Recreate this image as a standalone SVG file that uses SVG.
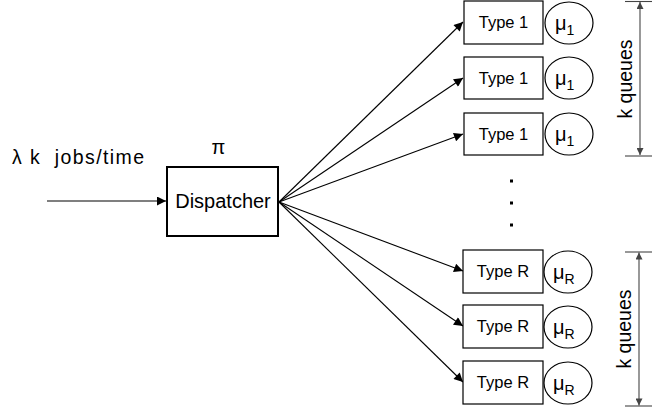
<svg xmlns="http://www.w3.org/2000/svg" width="652" height="414" viewBox="0 0 652 414">
<defs>
<style>
text{font-family:"Liberation Sans",Arial,sans-serif;fill:#000}
.box{fill:#fff;stroke:#000;stroke-width:1.2}
.c{fill:#fff;stroke:#000;stroke-width:1.2}
.ln{stroke:#000;stroke-width:1.1;fill:none}
.dim{stroke:#444;stroke-width:1.1;fill:none}
.t{font-size:16.5px;text-anchor:middle}
.mu{font-size:20px}
.sub{font-size:14px}
.kq{font-size:19.5px;text-anchor:middle}
</style>
<marker id="ah" viewBox="0 0 10 10" refX="10" refY="5" markerWidth="12" markerHeight="9" markerUnits="userSpaceOnUse" orient="auto"><path d="M0,0 L10,5 L0,10 z" fill="#000"/></marker>
<marker id="dh" viewBox="0 0 10 10" refX="10" refY="5" markerWidth="8" markerHeight="7" markerUnits="userSpaceOnUse" orient="auto-start-reverse"><path d="M0,0 L10,5 L0,10 z" fill="#444"/></marker>
</defs>
<text x="12" y="164" font-size="19.5" xml:space="preserve" textLength="132" lengthAdjust="spacing">λ k  jobs/time</text>
<text x="218.5" y="154" font-size="20" text-anchor="middle">π</text>
<g id="connectors">
<line class="ln" x1="47" y1="201" x2="166" y2="201" marker-end="url(#ah)"/>
<line class="ln" x1="279" y1="202" x2="463" y2="22" marker-end="url(#ah)"/>
<line class="ln" x1="279" y1="202" x2="463" y2="78" marker-end="url(#ah)"/>
<line class="ln" x1="279" y1="202" x2="463" y2="134" marker-end="url(#ah)"/>
<line class="ln" x1="279" y1="202" x2="463" y2="271" marker-end="url(#ah)"/>
<line class="ln" x1="279" y1="202" x2="463" y2="326" marker-end="url(#ah)"/>
<line class="ln" x1="279" y1="202" x2="463" y2="382" marker-end="url(#ah)"/>
</g>
<g id="dispatcher">
<rect x="167" y="167" width="111" height="69" fill="#fff" stroke="#000" stroke-width="2"/>
<text x="223" y="208" font-size="20" text-anchor="middle">Dispatcher</text>
</g>
<g id="q1">
<rect class="box" x="464" y="1" width="79" height="43"/>
<text class="t" x="503.5" y="28">Type 1</text>
<ellipse class="c" cx="569" cy="23" rx="24" ry="21"/>
<text x="555" y="30" class="mu">μ<tspan class="sub" dy="5">1</tspan></text>
</g>
<g id="q2">
<rect class="box" x="464" y="57" width="79" height="42"/>
<text class="t" x="503.5" y="84">Type 1</text>
<ellipse class="c" cx="569" cy="78" rx="24" ry="21"/>
<text x="555" y="85" class="mu">μ<tspan class="sub" dy="5">1</tspan></text>
</g>
<g id="q3">
<rect class="box" x="464" y="113" width="79" height="42"/>
<text class="t" x="503.5" y="140">Type 1</text>
<ellipse class="c" cx="569" cy="134" rx="24" ry="21"/>
<text x="555" y="141" class="mu">μ<tspan class="sub" dy="5">1</tspan></text>
</g>
<g id="dots">
<rect x="510" y="179.5" width="3" height="3" fill="#000"/>
<rect x="510" y="201.5" width="3" height="3" fill="#000"/>
<rect x="510" y="223.5" width="3" height="3" fill="#000"/>
</g>
<g id="q4">
<rect class="box" x="463" y="250" width="80" height="43"/>
<text class="t" x="503" y="277">Type R</text>
<ellipse class="c" cx="568" cy="272" rx="24" ry="21"/>
<text x="553" y="279" class="mu">μ<tspan class="sub" dy="5">R</tspan></text>
</g>
<g id="q5">
<rect class="box" x="463" y="305" width="80" height="43"/>
<text class="t" x="503" y="332">Type R</text>
<ellipse class="c" cx="568" cy="327" rx="24" ry="21"/>
<text x="553" y="334" class="mu">μ<tspan class="sub" dy="5">R</tspan></text>
</g>
<g id="q6">
<rect class="box" x="463" y="361" width="80" height="43"/>
<text class="t" x="503" y="388">Type R</text>
<ellipse class="c" cx="568" cy="383" rx="24" ry="21"/>
<text x="553" y="390" class="mu">μ<tspan class="sub" dy="5">R</tspan></text>
</g>
<g id="dim1">
<line class="dim" x1="625" y1="1.5" x2="652" y2="1.5"/>
<line class="dim" x1="625" y1="156" x2="652" y2="156"/>
<line class="dim" x1="640" y1="2" x2="640" y2="155" marker-start="url(#dh)" marker-end="url(#dh)"/>
<text class="kq" transform="translate(632,79) rotate(-90)">k queues</text>
</g>
<g id="dim2">
<line class="dim" x1="625" y1="252" x2="652" y2="252"/>
<line class="dim" x1="625" y1="406" x2="652" y2="406"/>
<line class="dim" x1="639" y1="252.5" x2="639" y2="405.5" marker-start="url(#dh)" marker-end="url(#dh)"/>
<text class="kq" transform="translate(631,329) rotate(-90)">k queues</text>
</g>
</svg>
